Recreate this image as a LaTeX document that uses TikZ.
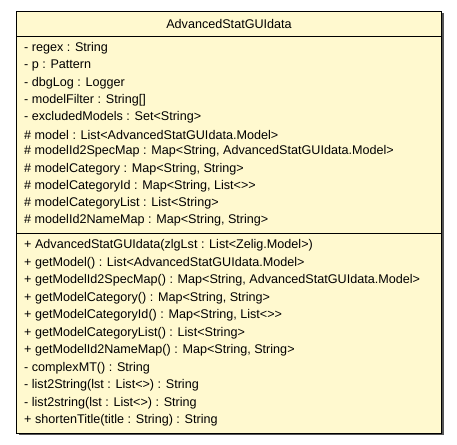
\documentclass[tikz,border=0pt]{standalone}
\usepackage{fontspec}
\setmainfont{Liberation Sans}[Ligatures=TeXOff]
\definecolor{classfill}{HTML}{FFF9CF}
\definecolor{shadowgray}{HTML}{555555}
\begin{document}
\begin{tikzpicture}[x=1pt,y=-1pt,
  member/.style={anchor=west,inner sep=0pt,font=\fontsize{12.6}{14}\selectfont},
  titletext/.style={anchor=center,inner sep=0pt,font=\fontsize{12.6}{14}\selectfont}]
\useasboundingbox (0,0) rectangle (457,444);
% shadow and box
\fill[shadowgray] (18.5,13) rectangle (443.5,435);
\draw[fill=classfill,line width=0.9pt] (16,11) coordinate (tl) rectangle (441.5,433) coordinate (br);
\draw[line width=0.9pt] (16,36) -- (441.5,36);
\draw[line width=0.9pt] (16,233.5) -- (441.5,233.5);
\node[titletext] (title) at (229,23.5) {AdvancedStatGUIdata};
% attributes
\node[member] (a1) at (24,48.5) {- regex : String};
\node[member] (a2) at (24,65.7) {- p : Pattern};
\node[member] (a3) at (24,82.9) {- dbgLog : Logger};
\node[member] (a4) at (24,100.1) {- modelFilter : String[]};
\node[member] (a5) at (24,117.3) {- excludedModels : Set<String>};
\node[member] (a6) at (24,134.5) {\# model : List<AdvancedStatGUIdata.Model>};
\node[member] (a7) at (24,151.7) {\# modelId2SpecMap : Map<String, AdvancedStatGUIdata.Model>};
\node[member] (a8) at (24,168.9) {\# modelCategory : Map<String, String>};
\node[member] (a9) at (24,186.1) {\# modelCategoryId : Map<String, List<>>};
\node[member] (a10) at (24,203.3) {\# modelCategoryList : List<String>};
\node[member] (a11) at (24,220.5) {\# modelId2NameMap : Map<String, String>};
% methods
\node[member] (m1) at (24,245.5) {+ AdvancedStatGUIdata(zlgLst : List<Zelig.Model>)};
\node[member] (m2) at (24,263) {+ getModel() : List<AdvancedStatGUIdata.Model>};
\node[member] (m3) at (24,280.5) {+ getModelId2SpecMap() : Map<String, AdvancedStatGUIdata.Model>};
\node[member] (m4) at (24,298) {+ getModelCategory() : Map<String, String>};
\node[member] (m5) at (24,315.5) {+ getModelCategoryId() : Map<String, List<>>};
\node[member] (m6) at (24,333) {+ getModelCategoryList() : List<String>};
\node[member] (m7) at (24,350.5) {+ getModelId2NameMap() : Map<String, String>};
\node[member] (m8) at (24,368) {- complexMT() : String};
\node[member] (m9) at (24,385.5) {- list2String(lst : List<>) : String};
\node[member] (m10) at (24,403) {- list2string(lst : List<>) : String};
\node[member] (m11) at (24,420.5) {+ shortenTitle(title : String) : String};
\end{tikzpicture}
\end{document}
